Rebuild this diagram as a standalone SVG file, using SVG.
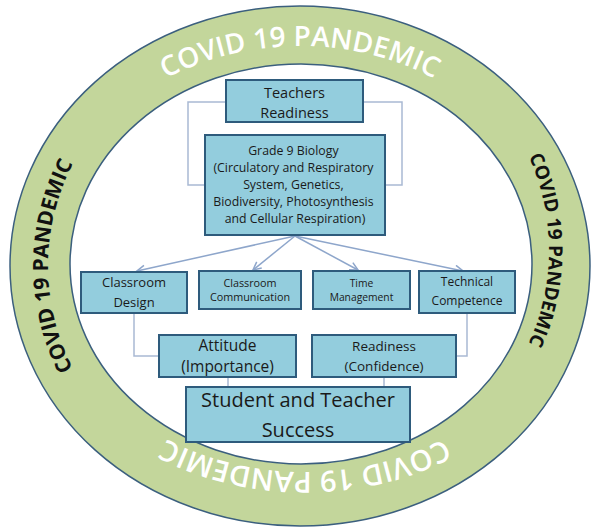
<svg xmlns="http://www.w3.org/2000/svg" width="594" height="531" viewBox="0 0 594 531">
<style>
.box{fill:#93CDDD;stroke:#2E5B7C;stroke-width:2}
.t{font-family:"Open Sans","Noto Sans",sans-serif;fill:#1a1a1a;text-anchor:middle}
.conn{fill:none;stroke:#A9B9D3;stroke-width:1.5}
.arr{fill:none;stroke:#8EA6CB;stroke-width:1.5}
.band{font-family:"Open Sans","Noto Sans",sans-serif}
</style>
<defs>
<marker id="ah" markerUnits="userSpaceOnUse" markerWidth="12" markerHeight="12" refX="9" refY="5" orient="auto">
<path d="M1,1 L9,5 L1,9" fill="none" stroke="#8EA6CB" stroke-width="1.5"/>
</marker>
<path id="pTop" d="M44,266 A256,220 0 0 1 556,266"/>
<path id="pLeft" d="M300,502 A252,236 0 0 1 300,30"/>
<path id="pRight" d="M300,14 A249,236 0 0 1 300,486"/>
<path id="pBot" d="M560,266 A255,206 0 0 1 50,266"/>
</defs>
<g id="ring">
<ellipse cx="300" cy="266" rx="290" ry="260" fill="#C3D69B" stroke="#3B5F7E" stroke-width="1.5"/>
<ellipse cx="301" cy="264" rx="231" ry="200" fill="#FFFFFF" stroke="#3B5F7E" stroke-width="1.5"/>
<text class="band" font-size="28" font-weight="600" fill="#FFFFFF"><textPath href="#pTop" startOffset="50%" text-anchor="middle">COVID 19 PANDEMIC</textPath></text>
<text class="band" font-size="21" font-weight="bold" fill="#111111"><textPath href="#pLeft" startOffset="50%" text-anchor="middle">COVID 19 PANDEMIC</textPath></text>
<text class="band" font-size="19" font-weight="bold" fill="#111111"><textPath href="#pRight" startOffset="50%" text-anchor="middle">COVID 19 PANDEMIC</textPath></text>
<text class="band" font-size="29" font-weight="600" fill="#FFFFFF"><textPath href="#pBot" startOffset="50%" text-anchor="middle">COVID 19 PANDEMIC</textPath></text>
</g>
<g id="connectors">
<rect class="conn" x="188" y="102" width="214" height="83"/>
<line class="arr" x1="295" y1="236" x2="137" y2="271" marker-end="url(#ah)"/>
<line class="arr" x1="295" y1="236" x2="253" y2="270" marker-end="url(#ah)"/>
<line class="arr" x1="295" y1="236" x2="358" y2="270" marker-end="url(#ah)"/>
<line class="arr" x1="295" y1="236" x2="463" y2="271" marker-end="url(#ah)"/>
<path class="conn" d="M134,313 L134,356 L159,356"/>
<path class="conn" d="M467,313 L467,356 L456,356"/>
<line class="conn" x1="228" y1="377" x2="228" y2="387"/>
<line class="conn" x1="384" y1="377" x2="384" y2="387"/>
</g>
<g id="teachers-readiness">
<rect class="box" x="226" y="80" width="137" height="42"/>
<text class="t" font-size="14.5" x="294.5" y="98">Teachers</text>
<text class="t" font-size="14.5" x="294.5" y="118">Readiness</text>
</g>
<g id="grade9">
<rect class="box" x="205" y="135" width="180" height="100"/>
<text class="t" font-size="12.3">
<tspan x="295" y="155">Grade 9 Biology</tspan>
<tspan x="295" y="172">(Circulatory and Respiratory</tspan>
<tspan x="295" y="189">System, Genetics,</tspan>
<tspan x="295" y="206">Biodiversity, Photosynthesis</tspan>
<tspan x="295" y="223">and Cellular Respiration)</tspan>
</text>
</g>
<g id="classroom-design">
<rect class="box" x="81" y="272" width="106" height="41"/>
<text class="t" font-size="13" x="134" y="287">Classroom</text>
<text class="t" font-size="13" x="134" y="307">Design</text>
</g>
<g id="classroom-communication">
<rect class="box" x="199" y="271" width="102" height="38"/>
<text class="t" font-size="10.8" x="250" y="287">Classroom</text>
<text class="t" font-size="10.8" x="250" y="301">Communication</text>
</g>
<g id="time-management">
<rect class="box" x="313" y="271" width="97" height="38"/>
<text class="t" font-size="10.3" x="361.5" y="287">Time</text>
<text class="t" font-size="10.3" x="361.5" y="301">Management</text>
</g>
<g id="technical-competence">
<rect class="box" x="419" y="271" width="96" height="42"/>
<text class="t" font-size="12" x="467" y="286">Technical</text>
<text class="t" font-size="12" x="467" y="305">Competence</text>
</g>
<g id="attitude">
<rect class="box" x="159" y="335" width="137" height="42"/>
<text class="t" font-size="15.5" x="227.5" y="351">Attitude</text>
<text class="t" font-size="15.5" x="227.5" y="372">(Importance)</text>
</g>
<g id="readiness">
<rect class="box" x="312" y="335" width="144" height="42"/>
<text class="t" font-size="13.5" x="384" y="351">Readiness</text>
<text class="t" font-size="13.5" x="384" y="371">(Confidence)</text>
</g>
<g id="success">
<rect class="box" x="186" y="387" width="224" height="55"/>
<text class="t" font-size="20" x="298" y="407">Student and Teacher</text>
<text class="t" font-size="20" x="298" y="437">Success</text>
</g>
</svg>
